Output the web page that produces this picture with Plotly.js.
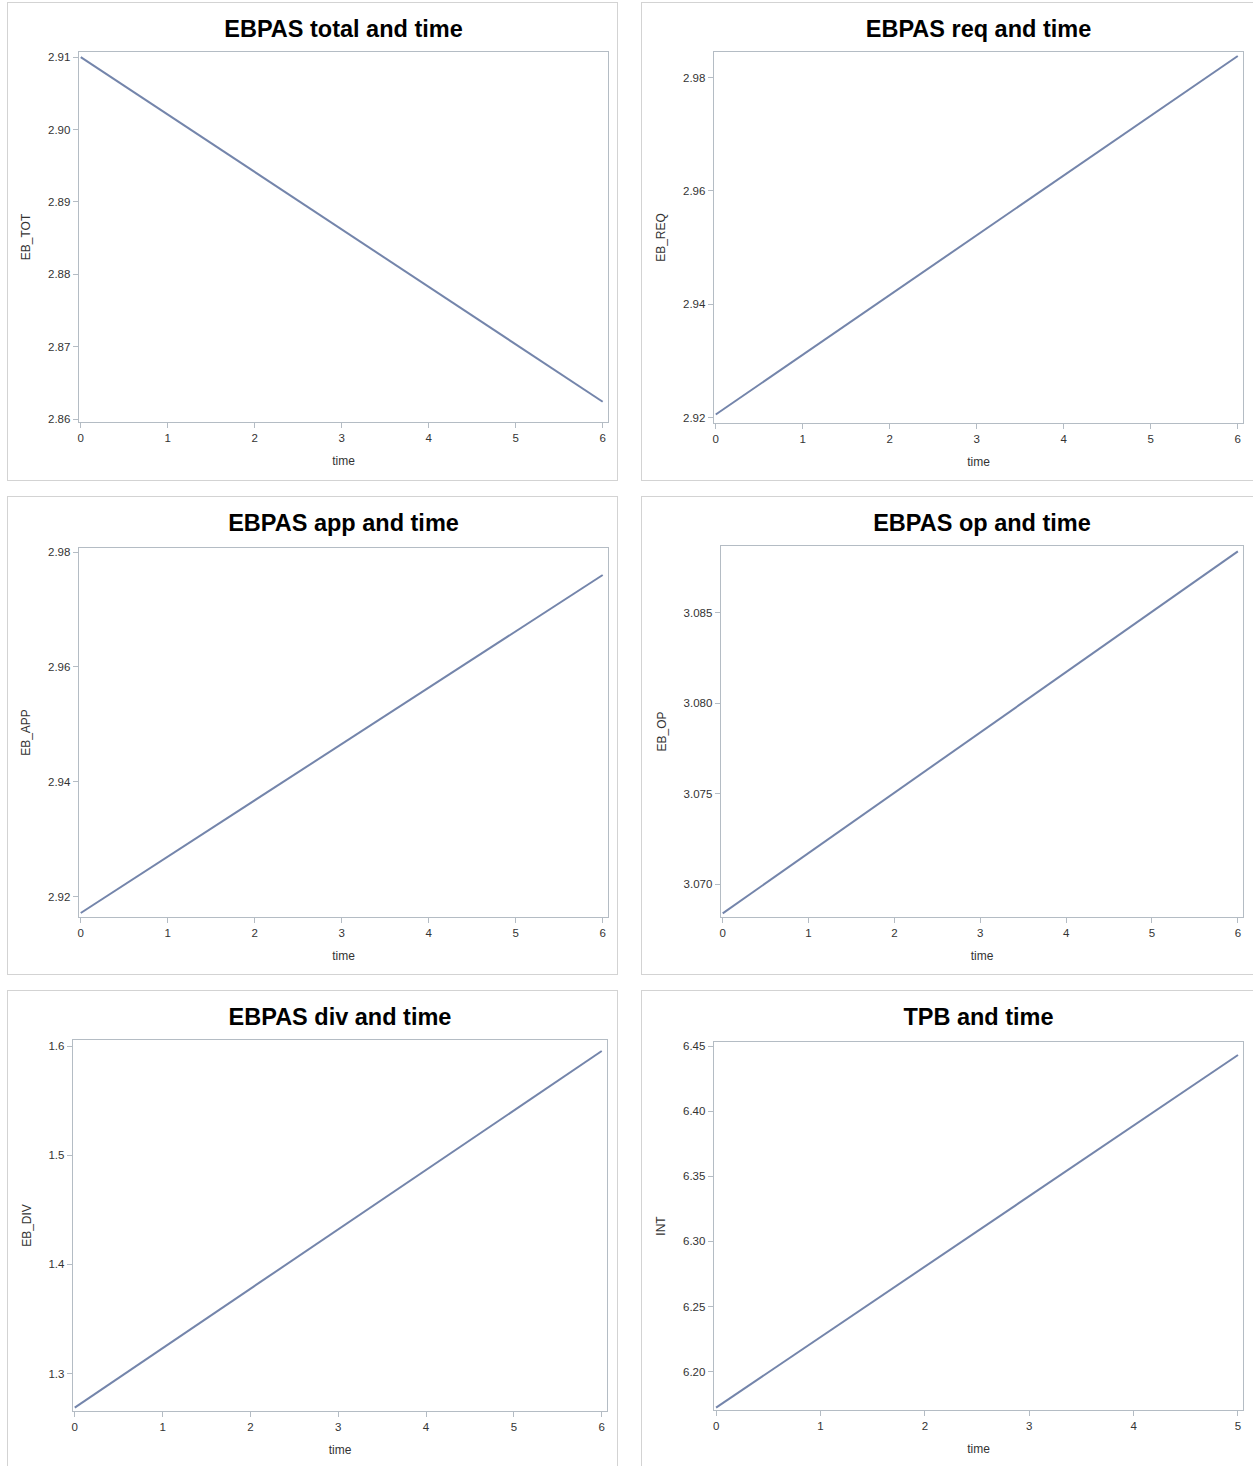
<!DOCTYPE html>
<html>
<head>
<meta charset="utf-8">
<script src="https://cdn.plot.ly/plotly-3.0.1.min.js"></script>
<style>
  html, body { margin: 0; padding: 0; background: #ffffff; overflow: hidden; }
  body { width: 1253px; height: 1466px; position: relative; }
  .frame { position: absolute; border: 1px solid #d3d3d3; box-sizing: border-box; pointer-events: none; }
  .plot { position: absolute; }
</style>
</head>
<body>
<script>
// Time points
const timeSix = [0, 6];
const timeFive = [0, 5];

// Fitted values at the first and last time point
const ebTot = [2.9100, 2.8624];
const ebReq = [2.9206, 2.9838];
const ebApp = [2.9172, 2.9760];
const ebOp  = [3.0684, 3.0884];
const ebDiv = [1.2688, 1.5954];
const tpbInt = [6.1724, 6.4431];

// Titles and axis labels
const panelTitles = ["EBPAS total and time", "EBPAS req and time", "EBPAS app and time",
                     "EBPAS op and time", "EBPAS div and time", "TPB and time"];
const yLabels = ["EB_TOT", "EB_REQ", "EB_APP", "EB_OP", "EB_DIV", "INT"];
const xLabel = "time";

// Y tick values per panel
const yTicksTot = [2.86, 2.87, 2.88, 2.89, 2.90, 2.91];
const yTicksReq = [2.92, 2.94, 2.96, 2.98];
const yTicksApp = [2.92, 2.94, 2.96, 2.98];
const yTicksOp  = [3.070, 3.075, 3.080, 3.085];
const yTicksDiv = [1.3, 1.4, 1.5, 1.6];
const yTicksInt = [6.20, 6.25, 6.30, 6.35, 6.40, 6.45];

const FONT = '"Liberation Sans", Arial, Helvetica, sans-serif';
const LINE = '#7485ab';
const AXIS = '#b4bcc4';
const TEXT = '#333333';

// box: outer frame [left, top, right, bottom]; area: plot area [left, top, right, bottom]
const specs = [
  { x: timeSix, y: ebTot, box: [7, 2, 618, 481], area: [79.3, 52.3, 608, 421.7],
    xr: [-0.02, 6.061], yr: [2.8596, 2.9107], yt: yTicksTot, dec: 2, titleY: 29 },
  { x: timeSix, y: ebReq, box: [641, 2, 1258, 481], area: [714, 51.7, 1243, 422.7],
    xr: [-0.02, 6.06], yr: [2.9191, 2.9845], yt: yTicksReq, dec: 2, titleY: 29 },
  { x: timeSix, y: ebApp, box: [7, 496, 618, 975], area: [79, 547.7, 608, 917],
    xr: [-0.02, 6.061], yr: [2.9165, 2.9807], yt: yTicksApp, dec: 2, titleY: 523 },
  { x: timeSix, y: ebOp, box: [641, 496, 1258, 975], area: [721, 545.7, 1243, 917],
    xr: [-0.02, 6.06], yr: [3.0682, 3.0887], yt: yTicksOp, dec: 3, titleY: 523 },
  { x: timeSix, y: ebDiv, box: [7, 990, 618, 1470], area: [72.5, 1040, 607.5, 1411],
    xr: [-0.02, 6.06], yr: [1.2657, 1.6055], yt: yTicksDiv, dec: 1, titleY: 1017 },
  { x: timeFive, y: tpbInt, box: [641, 990, 1258, 1470], area: [714.3, 1041.7, 1243, 1410],
    xr: [-0.02, 5.048], yr: [6.1706, 6.4531], yt: yTicksInt, dec: 2, titleY: 1017 }
];

specs.forEach((s, i) => {
  const [bl, bt, br, bb] = s.box;
  const [al, at, ar, ab] = s.area;
  const W = br - bl, H = bb - bt;

  const div = document.createElement('div');
  div.className = 'plot';
  div.id = 'plot' + i;
  Object.assign(div.style, { left: bl + 'px', top: bt + 'px', width: W + 'px', height: H + 'px' });
  document.body.appendChild(div);

  // light outline around each panel
  const frame = document.createElement('div');
  frame.className = 'frame';
  Object.assign(frame.style, { left: bl + 'px', top: bt + 'px', width: W + 'px', height: H + 'px' });
  document.body.appendChild(frame);

  const axisCommon = {
    showline: true, mirror: true, linecolor: AXIS, linewidth: 1.3,
    ticks: 'outside', ticklen: 5, tickcolor: AXIS, tickwidth: 1,
    showgrid: false, zeroline: false, fixedrange: true,
    tickfont: { family: FONT, size: 11.5, color: TEXT }
  };

  const layout = {
    width: W, height: H,
    margin: { l: al - bl, t: at - bt, r: br - ar, b: bb - ab, pad: 0 },
    paper_bgcolor: '#ffffff', plot_bgcolor: '#ffffff',
    showlegend: false,
    title: {
      text: '<b>' + panelTitles[i] + '</b>',
      font: { family: FONT, size: 23.5, color: '#000000' },
      xref: 'paper', x: 0.5, xanchor: 'center',
      yref: 'container', y: 1 - (s.titleY - bt) / H, yanchor: 'middle'
    },
    xaxis: Object.assign({}, axisCommon, {
      range: s.xr, dtick: 1, tick0: 0,
      title: { text: xLabel, font: { family: FONT, size: 12, color: TEXT }, standoff: 13 }
    }),
    yaxis: Object.assign({}, axisCommon, {
      range: s.yr, tickmode: 'array', tickvals: s.yt,
      ticktext: s.yt.map(v => v.toFixed(s.dec)),
      title: { text: yLabels[i], font: { family: FONT, size: 12, color: TEXT }, standoff: 14 }
    })
  };

  const trace = {
    type: 'scatter', mode: 'lines', x: s.x, y: s.y,
    line: { color: LINE, width: 2 }, hoverinfo: 'x+y'
  };

  Plotly.newPlot(div, [trace], layout, { staticPlot: true, displayModeBar: false });
});
</script>
</body>
</html>
